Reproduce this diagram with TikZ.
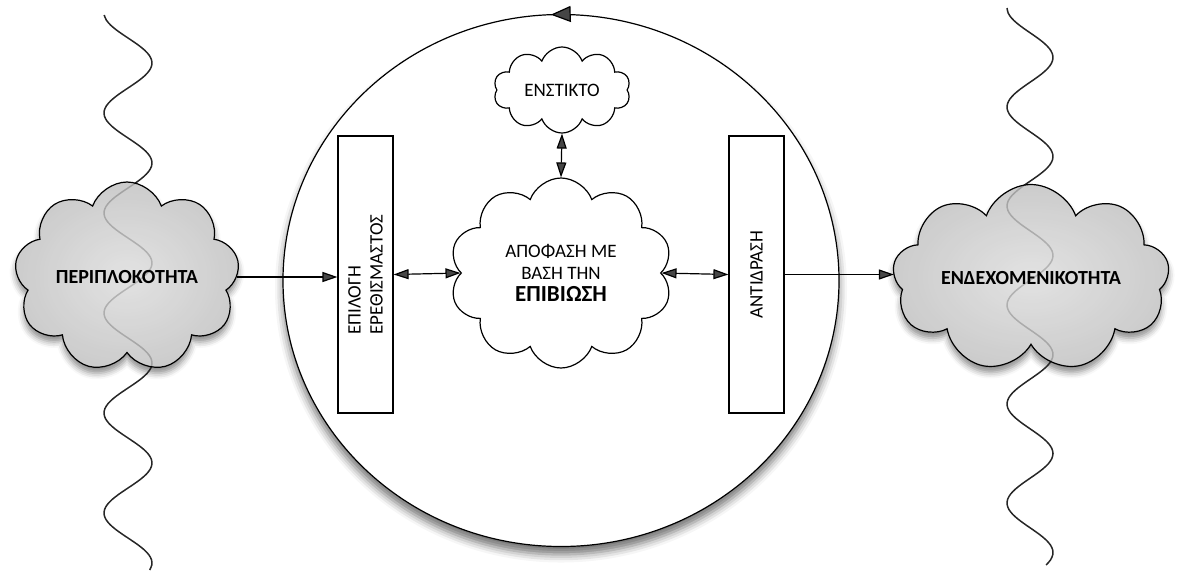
\documentclass[tikz,border=0pt]{standalone}
\usepackage{fontspec}
\setmainfont{Carlito}
\usetikzlibrary{shapes.symbols,arrows.meta,shadows.blur,decorations.markings}

\begin{document}
\begin{tikzpicture}[x=0.5pt, y=-0.5pt, line width=0.6pt,
    >={Triangle[length=7.5pt, width=5pt]},
    font=\fontsize{9.5}{11}\selectfont,
    wave/.style = {line width=0.75pt, black!85},
    cloudbase/.style = {cloud, cloud puffs=9, cloud puff arc=140, cloud ignores aspect, inner sep=0pt},
    greyshadow/.style = {cloudbase, fill=white, blur shadow={shadow xshift=0pt, shadow yshift=-3pt, shadow blur radius=3pt, shadow opacity=45}},
    greycloud/.style = {cloudbase, draw, inner color=black!14, outer color=black!25, fill opacity=0.8, text opacity=1, font=\bfseries\fontsize{10}{12}\selectfont},
    whitecloud/.style = {cloudbase, draw, cloud puffs=10, fill=white, align=center},
    bar/.style = {draw, fill=white, rotate=90, align=left, minimum width=138.5pt, minimum height=27.5pt, inner sep=1pt}]
  \useasboundingbox (0,0) rectangle (1177,574);

  % shadows under the outer clouds
  \node[greyshadow, minimum width=112.5pt, minimum height=95pt] at (127,277) {};
  \node[greyshadow, minimum width=138.5pt, minimum height=93.5pt] at (1031,278) {};

  % the two waves
  \draw[wave] plot[smooth, domain=15:570, samples=111] ({128-24*cos(3.6*(\x-13))}, \x);
  \draw[wave] plot[smooth, domain=8:565, samples=111] ({1030-23*cos(3.6364*(\x-8))}, \x);

  \node[greycloud, minimum width=112.5pt, minimum height=95pt] (complexity) at (127,277) {ΠΕΡΙΠΛΟΚΟΤΗΤΑ};
  \node[greycloud, minimum width=138.5pt, minimum height=93.5pt] (contingency) at (1031,278) {ΕΝΔΕΧΟΜΕΝΙΚΟΤΗΤΑ};

  % the organism
  \draw[fill=white, blur shadow={shadow xshift=0pt, shadow yshift=-4pt, shadow blur radius=4pt, shadow opacity=55},
        postaction={decorate}, decoration={markings, mark=at position 0.256 with {\arrow{Triangle[length=10pt, width=8pt]}}}]
    (561,280.5) ellipse [x radius=139pt, y radius=133pt];

  \node[bar] (stimulus) at (365.5,274.5) {ΕΠΙΛΟΓΗ\\ΕΡΕΘΙΣΜΑΣΤΟΣ};
  \node[bar] (reaction) at (756.5,274.5) {ΑΝΤΙΔΡΑΣΗ};
  \node[whitecloud, minimum width=111.5pt, minimum height=95pt] (decision) at (561,273)
    {ΑΠΟΦΑΣΗ ΜΕ\\ΒΑΣΗ ΤΗΝ\\{\bfseries\fontsize{11.5}{11}\selectfont ΕΠΙΒΙΩΣΗ}};
  \node[whitecloud, minimum width=68.5pt, minimum height=43pt] (instinct) at (562,90) {ΕΝΣΤΙΚΤΟ};

  \draw[->] (complexity.east) -- (complexity.east -| stimulus.north);
  \draw[<->] (stimulus.south) -- (decision.west);
  \draw[<->] (decision.east) -- (reaction.north);
  \draw[->] (reaction.south) -- (reaction.south -| contingency.west);
  \draw[<->] (instinct.south) -- (decision.north);
\end{tikzpicture}
\end{document}
